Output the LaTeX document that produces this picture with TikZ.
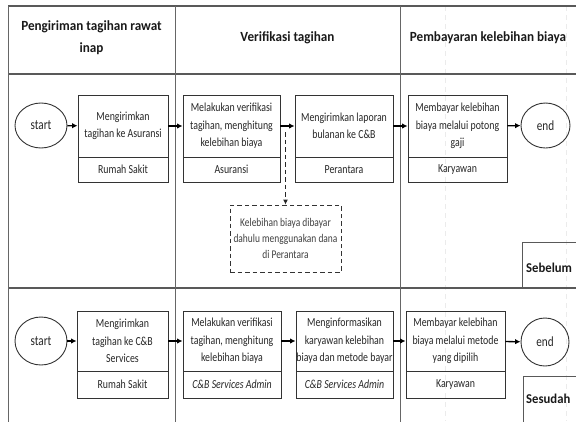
\documentclass[tikz,border=0pt]{standalone}
\usepackage{fontspec}
\setmainfont{Carlito}
\newfontfamily\boxfont[FakeStretch=0.8]{Carlito}
\newfontfamily\headfont[FakeStretch=0.94]{Carlito}
\usetikzlibrary{arrows.meta,shapes.geometric,calc}

\tikzset{
  lane/.style={draw=black!65, line width=1.6pt},
  divider/.style={draw=black!60, line width=1pt},
  guide/.style={draw=black!8, dashed, dash pattern=on 5pt off 4pt, line width=0.7pt},
  boxtext/.style={font=\boxfont\fontsize{12.3}{17.5}\selectfont, text=black!85},
  task/.style={boxtext, draw=black!80, line width=0.9pt, align=center, inner sep=0pt},
  role/.style={task},
  term/.style={ellipse, draw=black!80, line width=0.9pt, inner sep=0pt,
    font=\boxfont\fontsize{14}{16}\selectfont, text=black!85},
  note/.style={draw=black!80, dashed, dash pattern=on 4.5pt off 3pt, line width=0.9pt,
    align=center, inner sep=0pt, font=\boxfont\fontsize{11.8}{16}\selectfont, text=black!75},
  flow/.style={-{Latex[length=5.5pt,width=5.5pt]}, line width=1.3pt, black},
  branch/.style={-{Latex[length=5pt,width=5pt]}, line width=0.9pt, black!85,
    dashed, dash pattern=on 4.5pt off 3pt},
  lanehead/.style={font=\headfont\bfseries\fontsize{14}{22}\selectfont, align=center, text=black!90},
  phase/.style={font=\headfont\bfseries\fontsize{13.5}{16}\selectfont, text=black!90, anchor=west, inner sep=0pt},
  phasebox/.style={draw=black!65, line width=0.9pt}
}

\begin{document}
\begin{tikzpicture}[x=1pt,y=-1pt]
\useasboundingbox (0,0) rectangle (576,421);

% faint guide lines
\draw[guide] (445,6) -- (445,421);
\draw[guide] (566,6) -- (566,421);

% swimlane frame
\draw[lane] (8,6) -- (577,6);
\draw[lane] (8,74) -- (577,74);
\draw[lane] (8,288) -- (577,288);
\draw[divider] (8,6) -- (8,422);
\draw[divider] (175,6) -- (175,422);
\draw[divider] (400,6) -- (400,422);

% lane headings
\node[lanehead] (h1) at (91.5,38) {Pengiriman tagihan rawat\\inap};
\node[lanehead] (h2) at (287.5,38) {Verifikasi tagihan};
\node[lanehead] (h3) at (488,38) {Pembayaran kelebihan biaya};

% phase tags
\draw[phasebox] (522,288) -- (522,242) -- (577,242);
\node[phase] (before) at (526,268) {Sebelum};
\draw[phasebox] (523,422) -- (523,376) -- (577,376);
\node[phase] (after) at (526,399) {Sesudah};

% ---- first process ----
\node[term, minimum width=52pt, minimum height=45pt] (s1) at (41,125.5) {start};
\node[task, minimum width=90pt, minimum height=62pt] (a1) at (123,126)
  {Mengirimkan\\tagihan ke Asuransi};
\node[role, minimum width=90pt, minimum height=25pt] (a1r) at (123,169.5) {Rumah Sakit};
\node[task, minimum width=97pt, minimum height=62pt] (a2) at (231.5,126)
  {Melakukan verifikasi\\tagihan, menghitung\\kelebihan biaya};
\node[role, minimum width=97pt, minimum height=25pt] (a2r) at (231.5,169.5) {Asuransi};
\node[task, minimum width=98pt, minimum height=62pt] (a3) at (344,126)
  {Mengirimkan laporan\\bulanan ke C\&B};
\node[role, minimum width=98pt, minimum height=25pt] (a3r) at (344,169.5) {Perantara};
\node[task, minimum width=99pt, minimum height=62pt] (a4) at (457.5,126)
  {Membayar kelebihan\\biaya melalui potong\\gaji};
\node[role, minimum width=99pt, minimum height=25pt] (a4r) at (457.5,169.5) {Karyawan};
\node[term, minimum width=49pt, minimum height=45pt] (e1) at (545.5,125.5) {end};
\node[note, minimum width=111pt, minimum height=67pt] (n1) at (285.5,238.5)
  {Kelebihan biaya dibayar\\dahulu menggunakan dana\\di Perantara};

\draw[flow] (s1) -- (a1);
\draw[flow] (a1) -- (a2);
\draw[flow] (a2) -- (a3);
\draw[flow] (a3) -- (a4);
\draw[flow] (a4) -- (e1);
\coordinate (tap) at (n1.north |- a2.east);
\draw[branch] ($(tap)+(0,6)$) -- (n1.north);

% ---- second process ----
\node[term, minimum width=52pt, minimum height=48pt] (s2) at (41,341) {start};
\node[task, minimum width=91pt, minimum height=60pt] (b1) at (122.5,341)
  {Mengirimkan\\tagihan ke C\&B\\Services};
\node[role, minimum width=91pt, minimum height=27pt] (b1r) at (122.5,384.5) {Rumah Sakit};
\node[task, minimum width=98pt, minimum height=60pt] (b2) at (232,341)
  {Melakukan verifikasi\\tagihan, menghitung\\kelebihan biaya};
\node[role, minimum width=98pt, minimum height=27pt] (b2r) at (232,384.5) {\itshape C\&B Services Admin};
\node[task, minimum width=97pt, minimum height=60pt] (b3) at (344.5,341)
  {Menginformasikan\\karyawan kelebihan\\biaya dan metode bayar};
\node[role, minimum width=97pt, minimum height=27pt] (b3r) at (344.5,384.5) {\itshape C\&B Services Admin};
\node[task, minimum width=99pt, minimum height=60pt] (b4) at (455.5,341)
  {Membayar kelebihan\\biaya melalui metode\\yang dipilih};
\node[role, minimum width=99pt, minimum height=27pt] (b4r) at (455.5,384.5) {Karyawan};
\node[term, minimum width=48pt, minimum height=48pt] (e2) at (545,342) {end};

\draw[flow] (s2) -- (b1);
\draw[flow] (b1) -- (b2);
\draw[flow] (b2) -- (b3);
\draw[flow] (b3) -- (b4);
\draw[flow] (b4) -- (e2);
\end{tikzpicture}
\end{document}
